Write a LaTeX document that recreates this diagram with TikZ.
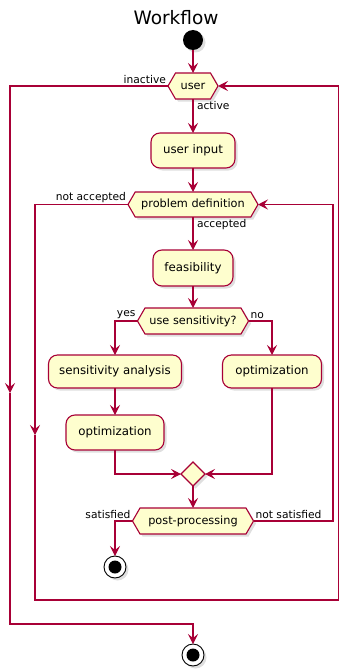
\documentclass[tikz,border=0pt]{standalone}
\usepackage{fontspec}
\setmainfont{DejaVu Sans}
\usetikzlibrary{shapes.geometric,shapes.symbols,arrows.meta,positioning,shadows}

\definecolor{umlred}{HTML}{A80036}
\definecolor{umlfill}{HTML}{FEFECE}

\tikzset{
  shade/.style={drop shadow={opacity=0.25, shadow xshift=2.5pt, shadow yshift=-2.5pt}},
  act/.style={rectangle, rounded corners=9pt, draw=umlred, fill=umlfill, line width=1.1pt,
    inner sep=0pt, outer sep=0pt, font=\fontsize{11.8}{13}\selectfont, shade},
  choice/.style={signal, signal to=west and east, signal pointer angle=120, draw=umlred,
    fill=umlfill, line width=1.1pt, inner sep=0pt, outer sep=0pt,
    font=\fontsize{11.3}{13}\selectfont, shade},
  merger/.style={diamond, draw=umlred, fill=umlfill, line width=1.1pt, inner sep=0pt,
    outer sep=0pt, minimum width=24pt, minimum height=24pt, shade},
  begin/.style={circle, fill=black, minimum size=20pt, inner sep=0pt, outer sep=0pt, shade},
  finish/.style={circle, draw=black, fill=white, line width=0.9pt, minimum size=22pt,
    inner sep=0pt, outer sep=0pt, shade,
    path picture={\fill[black] (path picture bounding box.center) circle (6.5pt);}},
  flow/.style={draw=umlred, line width=1.1pt, -{Stealth[length=10pt,width=10pt,inset=4pt]}},
  lbl/.style={font=\fontsize{10.7}{12}\selectfont, inner sep=1.5pt}
}

\begin{document}
\begin{tikzpicture}[x=1pt,y=-1pt]
  \useasboundingbox (0,0) rectangle (340,669);

  \node[font=\fontsize{18.5}{20}\selectfont] (title) at (176,18) {Workflow};

  \node[begin] (start) at (193,40) {};
  \node[choice, minimum width=50pt, minimum height=26pt, below = 23pt of start] (user) {user};
  \node[act, minimum width=84pt, minimum height=35pt, below = 34pt of user] (userin) {user input};
  \node[choice, minimum width=130pt, minimum height=25pt, below = 24pt of userin] (probdef) {problem definition};
  \node[act, minimum width=80pt, minimum height=36pt, below = 33pt of probdef] (feas) {feasibility};
  \node[choice, minimum width=111pt, minimum height=26pt, below = 22pt of feas] (sens) {use sensitivity?};
  \node[act, minimum width=133pt, minimum height=33pt, below = 21pt of sens, xshift=-78pt] (sa) {sensitivity analysis};
  \node[act, minimum width=99pt, minimum height=33pt, below = 21pt of sens, xshift=79pt] (optR) {optimization};
  \node[act, minimum width=98pt, minimum height=35pt, below = 27pt of sa] (optL) {optimization};
  \node[merger, below = 128pt of sens] (merge) {};
  \node[choice, minimum width=121pt, minimum height=26pt, below = 22pt of merge] (post) {post-processing};
  \node[finish, below = 22pt of post, xshift=-78pt] (stopA) {};
  \node[finish, below = 110pt of post] (stopB) {};

  % bend points of the loops
  \coordinate (outArr) at (10,393);
  \coordinate (outBot) at (10,624);
  \coordinate (inArr) at (35,435);
  \coordinate (loopR) at (338.5,600);
  \coordinate (retR) at (333,204.5);

  \draw[flow] (start) -- (user);
  \draw[flow] (user.south) node[lbl, below right, xshift=2pt] (lact) {active} -- (userin);
  \draw[flow] (user.west) node[lbl, above left] (linact) {inactive} -| (outArr);
  \draw[flow] (outArr) -- (outBot) -| (stopB);

  \draw[flow] (userin) -- (probdef);
  \draw[flow] (probdef.south) node[lbl, below right, xshift=2pt] (lacc) {accepted} -- (feas);
  \draw[flow] (probdef.west) node[lbl, above left] (lnacc) {not accepted} -| (inArr);
  \draw[flow] (inArr) |- (loopR) |- (user.east);

  \draw[flow] (feas) -- (sens);
  \draw[flow] (sens.west) node[lbl, above left] (lyes) {yes} -| (sa);
  \draw[flow] (sens.east) node[lbl, above right] (lno) {no} -| (optR);
  \draw[flow] (sa) -- (optL);
  \draw[flow] (optL) |- (merge);
  \draw[flow] (optR) |- (merge);

  \draw[flow] (merge) -- (post);
  \draw[flow] (post.west) node[lbl, above left] (lsat) {satisfied} -| (stopA);
  \draw[flow] (post.east) node[lbl, above right] (lnsat) {not satisfied} -| (retR) -- (probdef.east);
\end{tikzpicture}
\end{document}
